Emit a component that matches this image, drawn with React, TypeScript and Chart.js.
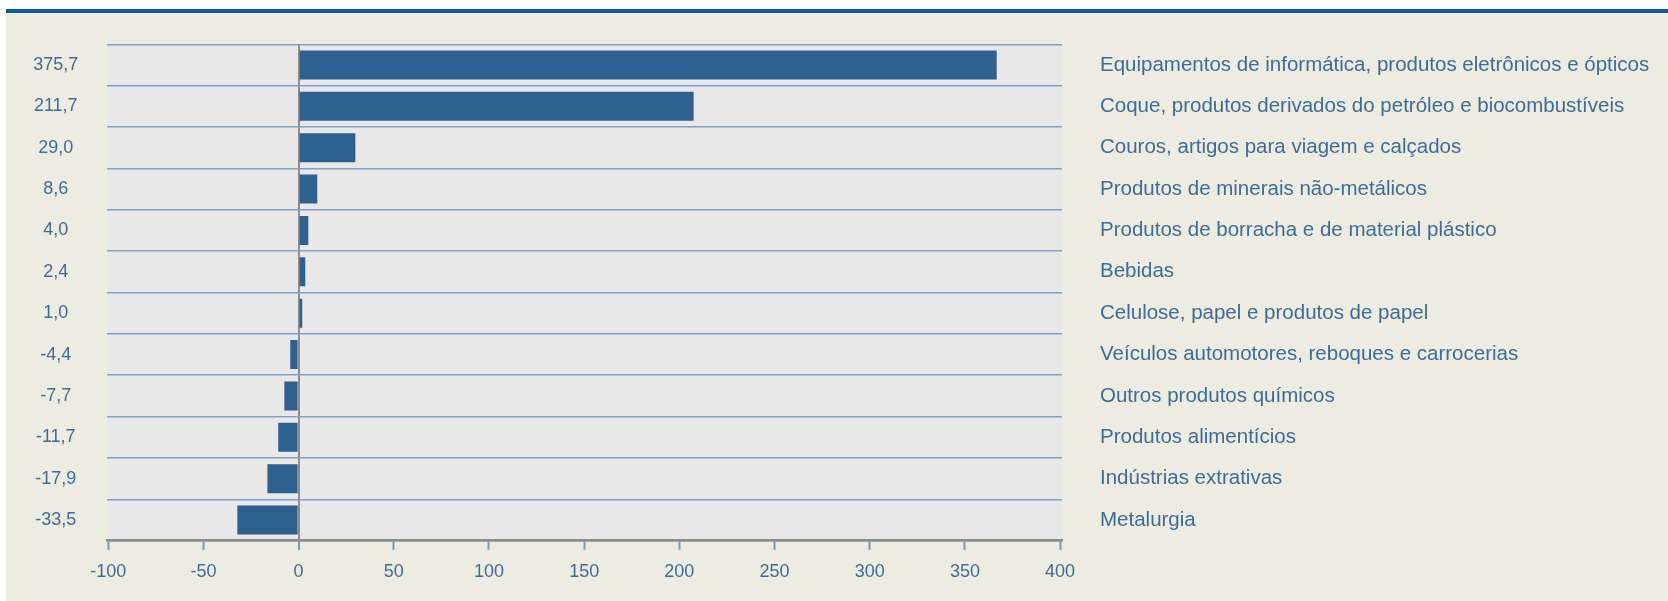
import React, { useEffect, useRef } from "react";
import { Chart, registerables } from "chart.js";

Chart.register(...registerables);

const categories = [
  "Equipamentos de informática, produtos eletrônicos e ópticos",
  "Coque, produtos derivados do petróleo e biocombustíveis",
  "Couros, artigos para viagem e calçados",
  "Produtos de minerais não-metálicos",
  "Produtos de borracha e de material plástico",
  "Bebidas",
  "Celulose, papel e produtos de papel",
  "Veículos automotores, reboques e carrocerias",
  "Outros produtos químicos",
  "Produtos alimentícios",
  "Indústrias extrativas",
  "Metalurgia",
];

const valueLabels = [
  "375,7", "211,7", "29,0", "8,6", "4,0", "2,4", "1,0", "-4,4", "-7,7", "-11,7", "-17,9", "-33,5",
];

// bar lengths as drawn in the picture
const barValues = [366.7, 207.5, 29.8, 9.8, 5.1, 3.5, 1.9, -4.4, -7.5, -10.7, -16.4, -32.2];

const xTicks = [-100, -50, 0, 50, 100, 150, 200, 250, 300, 350, 400];

const TEXT = "#3E6C99";
const FONT = "'Liberation Sans', Arial, Helvetica, sans-serif";

export default function App() {
  const ref = useRef<HTMLCanvasElement | null>(null);

  useEffect(() => {
    if (!ref.current) return;
    const plotBg = {
      id: "plotBg",
      beforeDraw(chart: any) {
        const { ctx, chartArea } = chart;
        ctx.save();
        ctx.fillStyle = "#E8E8E8";
        ctx.fillRect(chartArea.left, chartArea.top, chartArea.right - chartArea.left, chartArea.bottom - chartArea.top);
        ctx.restore();
      },
    };
    const chart = new Chart(ref.current, {
      type: "bar",
      data: {
        labels: categories,
        datasets: [
          {
            data: barValues,
            backgroundColor: "#2F6190",
            borderWidth: 0,
            barPercentage: 0.7,
            categoryPercentage: 1,
            yAxisID: "y",
          },
        ],
      },
      options: {
        indexAxis: "y",
        animation: false,
        responsive: false,
        maintainAspectRatio: false,
        layout: { padding: { top: 44.3, bottom: 0, left: 0, right: 0 } },
        plugins: {
          legend: { display: false },
          tooltip: { enabled: false },
          title: { display: false },
        },
        scales: {
          x: {
            type: "linear",
            position: "bottom",
            min: -100.5,
            max: 401,
            afterBuildTicks: (scale: any) => {
              scale.ticks = xTicks.map((v) => ({ value: v }));
            },
            afterFit: (scale: any) => {
              scale.height = 60.3;
              scale.paddingLeft = 0;
              scale.paddingRight = 0;
            },
            grid: {
              drawOnChartArea: true,
              color: (ctx: any) => (ctx.tick && ctx.tick.value === 0 ? "#8C8C8C" : "rgba(0,0,0,0)"),
              lineWidth: (ctx: any) => (ctx.tick && ctx.tick.value === 0 ? 2 : 1),
              tickColor: "#7097BE",
              tickWidth: 2,
              tickLength: 9,
            },
            border: { display: true, color: "#8C8C8C", width: 2.5 },
            ticks: {
              color: TEXT,
              font: { family: FONT, size: 18 },
              padding: 12,
              maxRotation: 0,
              callback: (v: any) => String(v),
            },
          },
          y: {
            type: "category",
            position: "left",
            offset: true,
            afterFit: (scale: any) => {
              scale.width = 107.3;
              scale.paddingTop = 0;
              scale.paddingBottom = 0;
            },
            grid: {
              offset: true,
              drawTicks: false,
              color: "#7CA2C6",
              lineWidth: 1.5,
            },
            border: { display: false },
            ticks: {
              crossAlign: "center",
              padding: 29,
              color: TEXT,
              font: { family: FONT, size: 18 },
              callback: (_v: any, i: number) => valueLabels[i],
            },
          },
          y2: {
            type: "category",
            position: "right",
            offset: true,
            afterFit: (scale: any) => {
              scale.width = 606;
              scale.paddingTop = 0;
              scale.paddingBottom = 0;
            },
            grid: { display: false, drawTicks: false },
            border: { display: false },
            ticks: {
              padding: 38,
              color: TEXT,
              font: { family: FONT, size: 20.5 },
              callback: (_v: any, i: number) => categories[i],
            },
          },
        },
      },
      plugins: [plotBg],
    });
    return () => chart.destroy();
  }, []);

  return (
    <div style={{ position: "fixed", left: 0, top: 0, width: 1668, height: 601, background: "#FFFFFF", overflow: "hidden" }}>
      <div style={{ position: "absolute", left: 6, top: 9, width: 1662, height: 4, background: "#0F5A9C" }} />
      <div style={{ position: "absolute", left: 6, top: 13, width: 1662, height: 588, background: "#ECECE0" }} />
      <canvas ref={ref} width={1668} height={601} style={{ position: "absolute", left: 0, top: 0, width: 1668, height: 601 }} />
    </div>
  );
}
